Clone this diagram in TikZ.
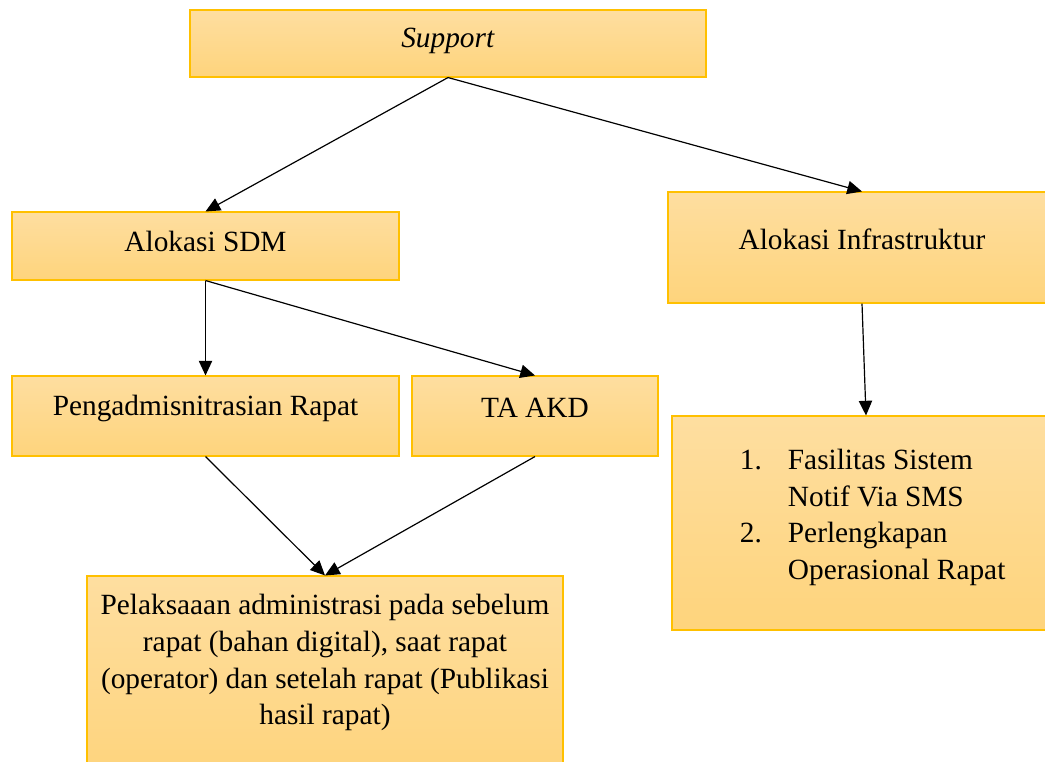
\documentclass[tikz,border=0pt]{standalone}
\usepackage{fontspec}
\setmainfont{Liberation Serif}
\usepackage{xcolor}
\usepackage{tikz}
\usetikzlibrary{arrows.meta}

\definecolor{kotakgaris}{RGB}{255,192,0}
\definecolor{kotakatas}{RGB}{254,222,160}
\definecolor{kotakbawah}{RGB}{254,212,124}

\tikzset{
  kotak/.style={draw=kotakgaris, line width=0.8pt, top color=kotakatas, bottom color=kotakbawah,
    rectangle, inner sep=0pt},
  teks/.style={font=\fontsize{22}{27.5}\selectfont, text=black, inner sep=0pt},
  panah/.style={-{Triangle[length=11pt,width=10pt]}, line width=0.9pt, black}
}

\begin{document}
\begin{tikzpicture}[x=0.75pt,y=-0.75pt]
\clip (0,0) rectangle (1045,761);
\useasboundingbox (0,0) rectangle (1045,761);

% kotak-kotak
\node[kotak, minimum width=387pt, minimum height=50.25pt,
  label={[teks,yshift=2pt]center:\textit{Support}}] (support) at (448,43.5) {};
\node[kotak, minimum width=290.25pt, minimum height=51pt,
  label={[teks,yshift=3.5pt]center:Alokasi SDM}] (sdm) at (205.5,246) {};
\node[kotak, minimum width=291pt, minimum height=83.25pt,
  label={[teks,yshift=6.2pt]center:Alokasi Infrastruktur}] (infra) at (862,247.5) {};
\node[kotak, minimum width=290.25pt, minimum height=60pt,
  label={[teks,yshift=5.8pt]center:Pengadmisnitrasian Rapat}] (peng) at (205.5,416) {};
\node[kotak, minimum width=184.5pt, minimum height=60pt,
  label={[teks,yshift=5.8pt]center:TA AKD}] (taakd) at (535,416) {};
\node[kotak, minimum width=357pt, minimum height=153pt,
  label={[teks,align=center,yshift=11.5pt]center:{Pelaksaaan administrasi pada sebelum\\
  rapat (bahan digital), saat rapat\\
  (operator) dan setelah rapat (Publikasi\\
  hasil rapat)}}] (pelak) at (325,678) {};
\node[kotak, minimum width=291pt, minimum height=160.5pt,
  label={[teks,xshift=5pt,yshift=4.5pt]center:{\begin{tabular}{@{}p{36pt}@{}l@{}}
  1. & Fasilitas Sistem\\
     & Notif Via SMS\\
  2. & Perlengkapan\\
     & Operasional Rapat
  \end{tabular}}}] (daftar) at (866,523) {};

% panah
\draw[panah] (support.south) -- (sdm.north);
\draw[panah] (support.south) -- (infra.north);
\draw[panah] (sdm.south) -- (peng.north);
\draw[panah] (sdm.south) -- (taakd.north);
\draw[panah] (peng.south) -- (pelak.north);
\draw[panah] (taakd.south) -- (pelak.north);
\draw[panah] (infra.south) -- (daftar.north);
\end{tikzpicture}
\end{document}
